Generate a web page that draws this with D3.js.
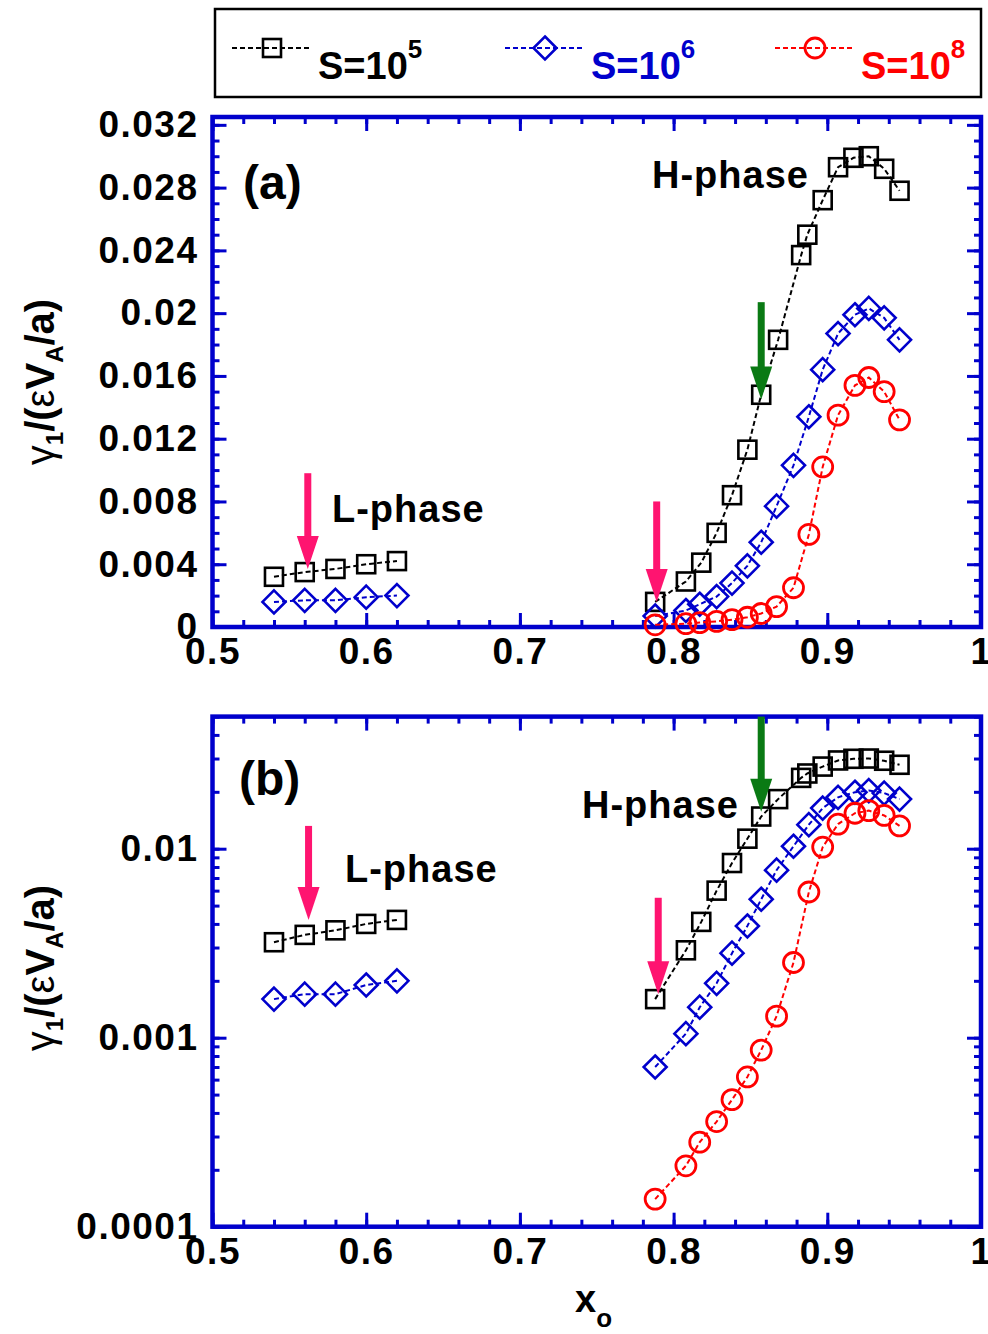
<!DOCTYPE html>
<html>
<head>
<meta charset="utf-8">
<script src="https://cdn.jsdelivr.net/npm/d3@7"></script>
<style>
  body { margin: 0; background: #fff; }
  text { font-family: "Liberation Sans", Arial, sans-serif; font-weight: bold; }
</style>
</head>
<body>
<div id="chart"></div>
<script>
// ---- data ----
var lowX = [0.54, 0.56, 0.58, 0.60, 0.62];
var lowS5 = [0.0032, 0.0035, 0.0037, 0.0040, 0.0042];
var lowS6 = [0.0016, 0.0017, 0.0017, 0.0019, 0.0020];

var highXS5 = [0.788, 0.808, 0.818, 0.828, 0.838, 0.848, 0.857, 0.868, 0.883, 0.887, 0.897, 0.907, 0.917, 0.927, 0.937, 0.947];
var highS5 = [0.0016, 0.0029, 0.0041, 0.0060, 0.0084, 0.0113, 0.0148, 0.0183, 0.0237, 0.0250, 0.0272, 0.0293, 0.0299, 0.0300, 0.0292, 0.0278];

var highX = [0.788, 0.808, 0.817, 0.828, 0.838, 0.848, 0.857, 0.867, 0.878, 0.888, 0.897, 0.907, 0.918, 0.927, 0.937, 0.947];
var highS6 = [0.0007, 0.00105, 0.00145, 0.00194, 0.0028, 0.0039, 0.0054, 0.0077, 0.0103, 0.0134, 0.0164, 0.0187, 0.0199, 0.0203, 0.0197, 0.0183];
var highS8 = [0.00014, 0.00021, 0.00028, 0.00036, 0.00047, 0.00062, 0.00086, 0.0013, 0.0025, 0.0059, 0.0102, 0.0135, 0.0154, 0.0159, 0.0150, 0.0132];

var legendLabels = ["S=10", "S=10", "S=10"];
var legendPowers = ["5", "6", "8"];

var xMajor = [0.5, 0.6, 0.7, 0.8, 0.9, 1];
var yMajorA = [0, 0.004, 0.008, 0.012, 0.016, 0.02, 0.024, 0.028, 0.032];
var yMajorB = [0.0001, 0.001, 0.01];

// arrows: x, tail value, tip value (panel a linear, panel b log)
var pinkArrowsA = [[0.562, 0.0098, 0.0037], [0.789, 0.0080, 0.0016]];
var greenArrowsA = [[0.857, 0.0207, 0.0145]];
var pinkArrowsB = [[0.5625, 0.0132, 0.0042], [0.790, 0.0055, 0.0017]];
var greenArrowsB = [[0.857, 0.05, 0.0157]];

// ---- layout ----
var W = 988, H = 1334;
var blue = "#0000cc", red = "#ff0000", pink = "#ff1470", green = "#0a7a14";
var colors = ["#000000", blue, red];

var svg = d3.select("#chart").append("svg")
    .attr("width", W)
    .attr("height", H);

var x = d3.scaleLinear().domain([0.5, 1]).range([212.5, 981]);
var yA = d3.scaleLinear().domain([0, 0.0325]).range([627, 117]);
var yB = d3.scaleLog().domain([0.0001, 0.05]).range([1226.7, 716.6]);

var xMinor = d3.range(0.5, 1.0001, 0.02).map(function (d) { return +d.toFixed(2); });
var yMinorA = d3.range(0, 0.0325, 0.001).map(function (d) { return +d.toFixed(3); });
var yMinorB = [];
[0.0001, 0.001, 0.01].forEach(function (dec) {
    for (var k = 1; k <= 9; k++) {
        var v = +(dec * k).toPrecision(2);
        if (v <= 0.05) yMinorB.push(v);
    }
});

function styleAxis(g) {
    g.select(".domain").remove();
    g.selectAll(".tick line").attr("stroke", blue).attr("stroke-width", 3);
    g.selectAll(".tick text")
        .attr("fill", "#000")
        .style("font-size", "37px")
        .style("letter-spacing", "1.5px");
}

function drawPanel(yScale, yMajor, yMinor, yFmt) {
    var top = yScale.range()[1], bottom = yScale.range()[0];
    var left = x.range()[0], right = x.range()[1];
    var g = svg.append("g");

    // minor ticks on all four sides
    g.append("g").attr("transform", "translate(0," + bottom + ")")
        .call(d3.axisBottom(x).tickValues(xMinor).tickSize(-7).tickFormat(""))
        .call(styleAxis);
    g.append("g").attr("transform", "translate(0," + top + ")")
        .call(d3.axisTop(x).tickValues(xMinor).tickSize(-7).tickFormat(""))
        .call(styleAxis);
    g.append("g").attr("transform", "translate(" + left + ",0)")
        .call(d3.axisLeft(yScale).tickValues(yMinor).tickSize(-7).tickFormat(""))
        .call(styleAxis);
    g.append("g").attr("transform", "translate(" + right + ",0)")
        .call(d3.axisRight(yScale).tickValues(yMinor).tickSize(-7).tickFormat(""))
        .call(styleAxis);

    // major ticks + labels
    g.append("g").attr("transform", "translate(0," + bottom + ")")
        .call(d3.axisBottom(x).tickValues(xMajor).tickSize(-14).tickPadding(11)
            .tickFormat(function (d) { return String(+d.toFixed(1)); }))
        .call(styleAxis);
    g.append("g").attr("transform", "translate(0," + top + ")")
        .call(d3.axisTop(x).tickValues(xMajor).tickSize(-14).tickFormat(""))
        .call(styleAxis);
    g.append("g").attr("transform", "translate(" + left + ",0)")
        .call(d3.axisLeft(yScale).tickValues(yMajor).tickSize(-14).tickPadding(14).tickFormat(yFmt))
        .call(styleAxis);
    g.append("g").attr("transform", "translate(" + right + ",0)")
        .call(d3.axisRight(yScale).tickValues(yMajor).tickSize(-14).tickFormat(""))
        .call(styleAxis);

    g.append("rect")
        .attr("x", left).attr("y", top)
        .attr("width", right - left).attr("height", bottom - top)
        .attr("fill", "none").attr("stroke", blue).attr("stroke-width", 4.5);
    return g;
}

function marker(g, kind, color, cx, cy) {
    if (kind === 0) {
        g.append("rect").attr("x", cx - 9).attr("y", cy - 9)
            .attr("width", 18).attr("height", 18)
            .attr("fill", "none").attr("stroke", color).attr("stroke-width", 2.6);
    } else if (kind === 1) {
        g.append("path")
            .attr("d", "M" + cx + "," + (cy - 11.5) + "L" + (cx + 11.5) + "," + cy + "L" + cx + "," + (cy + 11.5) + "L" + (cx - 11.5) + "," + cy + "Z")
            .attr("fill", "none").attr("stroke", color).attr("stroke-width", 2.6);
    } else {
        g.append("circle").attr("cx", cx).attr("cy", cy).attr("r", 10)
            .attr("fill", "none").attr("stroke", color).attr("stroke-width", 2.8);
    }
}

function drawSeries(g, yScale, xs, ys, kind) {
    var color = colors[kind];
    var pts = xs.map(function (d, i) { return [x(d), yScale(ys[i])]; });
    g.append("path")
        .attr("d", d3.line()(pts))
        .attr("fill", "none")
        .attr("stroke", color)
        .attr("stroke-width", 2)
        .attr("stroke-dasharray", "5,3");
    pts.forEach(function (p) { marker(g, kind, color, p[0], p[1]); });
}

function drawArrow(g, yScale, a, color) {
    var ax = x(a[0]), y0 = yScale(a[1]), y1 = yScale(a[2]);
    var headLen = 33, headW = 11;
    g.append("rect")
        .attr("x", ax - 3.5).attr("y", y0)
        .attr("width", 7).attr("height", Math.max(0, y1 - headLen - y0 + 1))
        .attr("fill", color);
    g.append("path")
        .attr("d", "M" + (ax - headW) + "," + (y1 - headLen) + "L" + (ax + headW) + "," + (y1 - headLen) + "L" + ax + "," + y1 + "Z")
        .attr("fill", color);
}

function panelContent(g, yScale) {
    drawSeries(g, yScale, lowX, lowS5, 0);
    drawSeries(g, yScale, lowX, lowS6, 1);
    drawSeries(g, yScale, highXS5, highS5, 0);
    drawSeries(g, yScale, highX, highS6, 1);
    drawSeries(g, yScale, highX, highS8, 2);
}

// ---- panel (a) ----
var gA = drawPanel(yA, yMajorA, yMinorA, function (d) { return String(+d.toFixed(3)); });
panelContent(gA, yA);
pinkArrowsA.forEach(function (a) { drawArrow(gA, yA, a, pink); });
greenArrowsA.forEach(function (a) { drawArrow(gA, yA, a, green); });
gA.append("text").attr("x", 243).attr("y", 199).style("font-size", "48px").text("(a)");
gA.append("text").attr("x", 652).attr("y", 188).style("font-size", "38px").style("letter-spacing", "1px").text("H-phase");
gA.append("text").attr("x", 332).attr("y", 522).style("font-size", "38px").style("letter-spacing", "1px").text("L-phase");

// ---- panel (b) ----
var gB = drawPanel(yB, yMajorB, yMinorB, function (d) { return String(+d.toPrecision(1)); });
panelContent(gB, yB);
pinkArrowsB.forEach(function (a) { drawArrow(gB, yB, a, pink); });
greenArrowsB.forEach(function (a) { drawArrow(gB, yB, a, green); });
gB.append("text").attr("x", 239).attr("y", 795).style("font-size", "48px").text("(b)");
gB.append("text").attr("x", 582).attr("y", 818).style("font-size", "38px").style("letter-spacing", "1px").text("H-phase");
gB.append("text").attr("x", 345).attr("y", 882).style("font-size", "38px").style("letter-spacing", "1px").text("L-phase");

// ---- y titles ----
function yTitle(cy) {
    var t = svg.append("text")
        .attr("transform", "translate(54," + cy + ") rotate(-90)")
        .attr("text-anchor", "middle")
        .style("font-size", "40px");
    t.append("tspan").style("font-weight", "normal").text("γ");
    t.append("tspan").attr("dy", 9).style("font-size", "24px").text("1");
    t.append("tspan").attr("dy", -9).text("/(");
    t.append("tspan").style("font-weight", "normal").text("ε");
    t.append("tspan").text("V");
    t.append("tspan").attr("dy", 9).style("font-size", "24px").text("A");
    t.append("tspan").attr("dy", -9).text("/a)");
}
yTitle(382);
yTitle(968);

// ---- x title ----
var xt = svg.append("text").attr("x", 575).attr("y", 1312).style("font-size", "38px");
xt.append("tspan").text("x");
xt.append("tspan").attr("dy", 15).style("font-size", "26px").text("o");

// ---- legend ----
var leg = svg.append("g");
leg.append("rect")
    .attr("x", 215).attr("y", 9).attr("width", 766).attr("height", 88)
    .attr("fill", "none").attr("stroke", "#000").attr("stroke-width", 2.5);
var legX = [232, 505, 775];
legendLabels.forEach(function (lab, i) {
    var x0 = legX[i], ly = 48, c = colors[i];
    leg.append("line")
        .attr("x1", x0).attr("x2", x0 + 78).attr("y1", ly).attr("y2", ly)
        .attr("stroke", c).attr("stroke-width", 2).attr("stroke-dasharray", "5,3");
    marker(leg, i, c, x0 + 40, ly);
    var t = leg.append("text").attr("x", x0 + 86).attr("y", 79)
        .attr("fill", c).style("font-size", "38px");
    t.append("tspan").text(lab);
    t.append("tspan").attr("dy", -21).style("font-size", "26px").text(legendPowers[i]);
});
</script>
</body>
</html>
